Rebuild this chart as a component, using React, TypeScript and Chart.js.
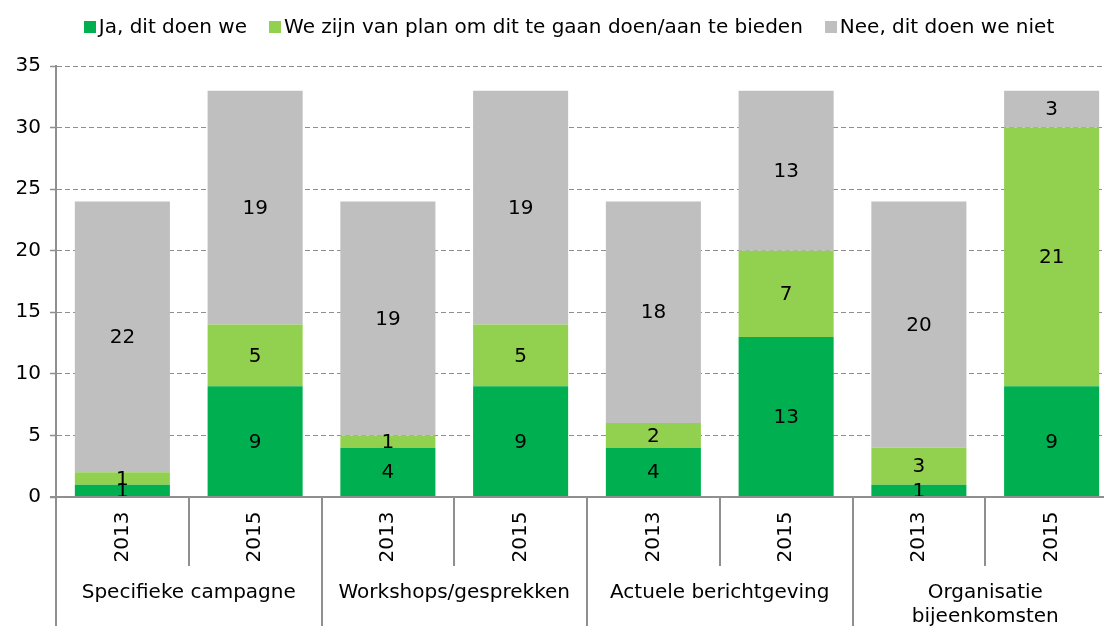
import { useEffect, useRef } from 'react';
import { Chart, registerables } from 'chart.js';

Chart.register(...registerables);

const groupLabels: string[][] = [
  ['Specifieke campagne'],
  ['Workshops/gesprekken'],
  ['Actuele berichtgeving'],
  ['Organisatie', 'bijeenkomsten'],
];
const years = ['2013', '2015'];
const categories = groupLabels.flatMap((g) => years.map((y) => `${g.join(' ')} ${y}`));

const seriesNames = ['Ja, dit doen we', 'We zijn van plan om dit te gaan doen/aan te bieden', 'Nee, dit doen we niet'];
const jaValues = [1, 9, 4, 9, 4, 13, 1, 9];
const planValues = [1, 5, 1, 5, 2, 7, 3, 21];
const neeValues = [22, 19, 19, 19, 18, 13, 20, 3];
const seriesColors = ['#00B050', '#92D050', '#BFBFBF'];

const yMax = 35;
const yStep = 5;

const FONT = '"DejaVu Sans", Verdana, sans-serif';
const FS = 20;
const AXIS_GRAY = '#8f8f8f';

const customPlugin = {
  id: 'customDraw',
  afterDatasetsDraw(chart: any) {
    const ctx = chart.ctx as CanvasRenderingContext2D;
    const xs = chart.scales.x;
    const ys = chart.scales.y;
    const { left, right } = chart.chartArea;
    const y0 = ys.getPixelForValue(0);
    const n = categories.length;

    ctx.save();
    // data labels
    ctx.fillStyle = '#000';
    ctx.font = `${FS}px ${FONT}`;
    ctx.textAlign = 'center';
    ctx.textBaseline = 'middle';
    chart.data.datasets.forEach((ds: any, di: number) => {
      const meta = chart.getDatasetMeta(di);
      meta.data.forEach((bar: any, i: number) => {
        const p = bar.getProps(['x', 'y', 'base'], true);
        ctx.fillText(String(ds.data[i]), p.x, (p.y + p.base) / 2 + 1);
      });
    });

    // x axis line
    ctx.strokeStyle = AXIS_GRAY;
    ctx.lineWidth = 2;
    ctx.beginPath();
    ctx.moveTo(left - 6, y0);
    ctx.lineTo(right, y0);
    ctx.stroke();

    // separators
    for (let k = 0; k <= n; k++) {
      let x: number;
      if (k === 0) x = left;
      else if (k === n) x = right;
      else x = (xs.getPixelForValue(k - 1) + xs.getPixelForValue(k)) / 2;
      const bottom = k % 2 === 0 ? chart.height : y0 + 69;
      ctx.beginPath();
      ctx.moveTo(Math.round(x), y0);
      ctx.lineTo(Math.round(x), bottom);
      ctx.stroke();
    }

    // year labels (rotated)
    ctx.fillStyle = '#000';
    ctx.font = `${FS}px ${FONT}`;
    for (let i = 0; i < n; i++) {
      const x = xs.getPixelForValue(i);
      ctx.save();
      ctx.translate(x, y0 + 40);
      ctx.rotate(-Math.PI / 2);
      ctx.textAlign = 'center';
      ctx.textBaseline = 'middle';
      ctx.fillText(years[i % 2], 0, 0);
      ctx.restore();
    }

    // group labels
    ctx.textAlign = 'center';
    ctx.textBaseline = 'middle';
    groupLabels.forEach((lines, g) => {
      const x = (xs.getPixelForValue(2 * g) + xs.getPixelForValue(2 * g + 1)) / 2;
      lines.forEach((line, li) => {
        ctx.fillText(line, x, y0 + 96 + li * 24);
      });
    });

    // legend
    ctx.font = `${FS}px ${FONT}`;
    const boxW = 12;
    const boxH = 12;
    const boxGap = 3;
    const itemGap = 22;
    const widths = seriesNames.map((s) => ctx.measureText(s).width);
    const total = widths.reduce((a, w) => a + boxW + boxGap + w, 0) + itemGap * (seriesNames.length - 1);
    let lx = 569 - total / 2;
    const ly = 27;
    ctx.textAlign = 'left';
    seriesNames.forEach((s, i) => {
      ctx.fillStyle = seriesColors[i];
      ctx.fillRect(Math.round(lx), ly - boxH / 2, boxW, boxH);
      lx += boxW + boxGap;
      ctx.fillStyle = '#000';
      ctx.fillText(s, lx, ly + 1);
      lx += widths[i] + itemGap;
    });
    ctx.restore();
  },
};

export default function App() {
  const canvasRef = useRef<HTMLCanvasElement | null>(null);

  useEffect(() => {
    if (!canvasRef.current) return;
    const chart = new Chart(canvasRef.current, {
      type: 'bar',
      data: {
        labels: categories,
        datasets: [
          { label: seriesNames[0], data: jaValues, backgroundColor: seriesColors[0] },
          { label: seriesNames[1], data: planValues, backgroundColor: seriesColors[1] },
          { label: seriesNames[2], data: neeValues, backgroundColor: seriesColors[2] },
        ].map((d) => ({ ...d, categoryPercentage: 1, barPercentage: 0.716, borderWidth: 0 })),
      },
      options: {
        responsive: false,
        animation: false,
        devicePixelRatio: 1,
        layout: { padding: { top: 66, bottom: 129, left: 0, right: 0 } },
        plugins: {
          legend: { display: false },
          tooltip: { enabled: false },
        },
        scales: {
          x: {
            stacked: true,
            display: false,
          },
          y: {
            stacked: true,
            min: 0,
            max: yMax,
            afterFit: (scale: any) => {
              scale.width = 56;
            },
            ticks: {
              stepSize: yStep,
              color: '#000',
              font: { family: FONT, size: FS },
              padding: 9,
            },
            grid: {
              color: AXIS_GRAY,
              lineWidth: 1,
              tickLength: 6,
              tickColor: AXIS_GRAY,
              tickWidth: 1.5,
            },
            border: {
              display: true,
              color: AXIS_GRAY,
              width: 2,
              dash: [5, 3],
            },
          },
        },
      },
      plugins: [customPlugin],
    });
    return () => chart.destroy();
  }, []);

  return (
    <div style={{ position: 'absolute', left: 0, top: 0, width: 1104, height: 626, overflow: 'hidden', background: '#fff' }}>
      <canvas ref={canvasRef} width={1118} height={626} />
    </div>
  );
}
